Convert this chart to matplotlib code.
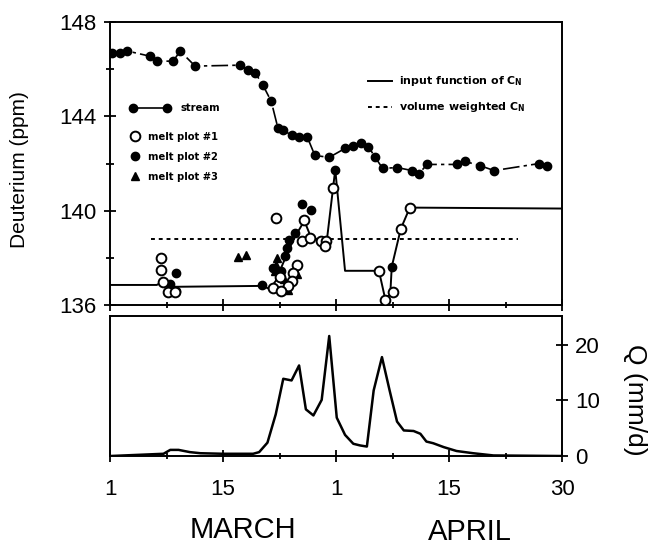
import matplotlib
matplotlib.use('Agg')
from matplotlib import pyplot as plt
from matplotlib.lines import Line2D

# time axis: days after 1 March, 0..60 (30 April at 60)
stream_day = [0.3, 1.3, 2.3, 5.3, 6.2, 8.4, 9.3, 11.3, 17.3, 18.3, 19.3, 20.3, 21.4,
              22.3, 23.0, 24.2, 25.1, 26.2, 27.2, 29.1, 31.2, 32.3, 33.3, 34.3, 35.2,
              36.2, 38.1, 40.1, 41.0, 42.1, 46.1, 47.1, 49.1, 51.0, 57.0, 58.0]
stream_ppm = [146.68, 146.68, 146.77, 146.55, 146.34, 146.34, 146.77, 146.13, 146.17,
              145.96, 145.83, 145.32, 144.64, 143.49, 143.40, 143.19, 143.11, 143.11,
              142.34, 142.26, 142.64, 142.74, 142.85, 142.72, 142.26, 141.79, 141.83,
              141.70, 141.57, 141.96, 141.96, 142.09, 141.91, 141.70, 142.00, 141.91]

melt1_day = [6.8, 6.8, 7.0, 7.7, 8.6, 21.6, 22.0, 25.8, 25.5, 26.6, 28.0, 28.7, 28.5,
             29.6, 24.8, 24.3, 24.1, 23.6, 22.6, 22.7, 35.7, 36.5, 37.6, 38.6, 39.8]
melt1_ppm = [138.00, 137.49, 136.98, 136.55, 136.55, 136.72, 139.70, 139.62, 138.72,
             138.85, 138.72, 138.72, 138.51, 140.94, 137.70, 137.36, 137.02, 136.81,
             137.19, 136.60, 137.45, 136.21, 136.55, 139.23, 140.13]

melt2_day = [8.8, 8.0, 8.8, 20.2, 21.6, 25.5, 26.7, 24.6, 23.8, 23.5, 23.2, 29.9, 37.4, 22.7]
melt2_ppm = [137.36, 136.89, 136.60, 136.85, 137.57, 140.30, 140.04, 139.06, 138.77,
             138.43, 138.09, 141.74, 137.62, 137.45]

melt3_day = [17.0, 18.0, 22.2, 22.0, 21.9, 24.8, 23.6, 23.1]
melt3_ppm = [138.04, 138.13, 138.00, 137.70, 137.45, 137.32, 136.64, 137.11]

input_day = [0, 6.2, 7.0, 8.0, 20.2, 21.2, 22.0, 23.0, 23.8, 24.4, 25.8, 26.7, 27.9,
             28.7, 29.6, 29.9, 31.2, 35.7, 36.5, 37.2, 37.4, 38.6, 39.8, 60]
input_ppm = [136.85, 136.85, 136.98, 136.77, 136.81, 136.68, 137.02, 137.79, 138.38,
             138.81, 139.57, 138.85, 138.72, 138.51, 140.94, 141.74, 137.45, 137.45,
             136.30, 136.43, 137.62, 139.23, 140.13, 140.09]

vw_day = [5.5, 54.2]
vw_ppm = [138.80, 138.80]

q_day = [0.1, 7.1, 8.0, 9.1, 10.6, 12.0, 15.0, 19.0, 19.8, 20.9, 22.0, 23.0, 24.1, 25.1,
         26.0, 27.0, 28.1, 29.1, 30.1, 31.2, 32.3, 33.2, 34.1, 35.0, 36.1, 37.1, 38.1,
         39.0, 40.3, 41.2, 42.0, 42.9, 44.3, 46.0, 48.2, 50.9, 59.7]
q_mm = [0, 0.4, 1.1, 1.1, 0.7, 0.5, 0.4, 0.4, 0.7, 2.4, 7.5, 13.9, 13.6, 16.3, 8.4, 7.3,
        10.1, 21.6, 6.9, 3.8, 2.2, 1.9, 1.7, 11.8, 17.8, 11.9, 6.2, 4.6, 4.5, 4.0, 2.6,
        2.3, 1.6, 0.9, 0.5, 0.1, 0]

major_days = [0, 15, 30, 45, 60]
major_labels = ['1', '15', '1', '15', '30']
minor_days = [7.5, 22.5, 37.5, 52.5]

W, H = 653, 546
fig = plt.figure(figsize=(W / 100, H / 100), dpi=100)
ax1 = fig.add_axes([110 / W, 1 - 305 / H, 452 / W, 283 / H])
ax2 = fig.add_axes([110 / W, 1 - 456 / H, 452 / W, 140 / H])

tickfont = 'Liberation Sans'
legfont = {'family': 'DejaVu Sans', 'weight': 'bold', 'size': 7.2}
legfont_r = {'family': 'DejaVu Sans', 'weight': 'bold', 'size': 7.9}

# ---- top panel: deuterium
stream_style = (0, (10, 2.5, 2, 2.5))
ax1.plot(stream_day, stream_ppm, color='black', lw=1.2, ls=stream_style,
         marker='o', ms=6, mfc='black', mec='black', zorder=3)
ax1.plot(input_day, input_ppm, color='black', lw=1.4, zorder=2)
ax1.plot(vw_day, vw_ppm, color='black', lw=1.4, ls=(0, (2, 2)), zorder=2)
ax1.plot(melt2_day, melt2_ppm, ls='none', marker='o', ms=6, mfc='black', mec='black', zorder=4)
ax1.plot(melt3_day, melt3_ppm, ls='none', marker='^', ms=6, mfc='black', mec='black', zorder=4)
ax1.plot(melt1_day, melt1_ppm, ls='none', marker='o', ms=7, mfc='white', mec='black',
         mew=1.4, zorder=5)

ax1.set_xlim(0, 60)
ax1.set_ylim(136, 148)
ax1.set_yticks([136, 140, 144, 148])
ax1.set_yticks([138, 142, 146], minor=True)
ax1.set_xticks(major_days)
ax1.set_xticks(minor_days, minor=True)
ax1.tick_params(axis='x', which='both', labelbottom=False, direction='inout')
ax1.tick_params(axis='x', which='major', length=9, width=1.3)
ax1.tick_params(axis='x', which='minor', length=5, width=1.3)
ax1.tick_params(axis='y', which='both', direction='inout', width=1.3)
ax1.tick_params(axis='y', which='major', length=9, pad=5, labelsize=16)
ax1.tick_params(axis='y', which='minor', length=6)
for lab in ax1.get_yticklabels():
    lab.set_family(tickfont)
ax1.set_ylabel('Deuterium (ppm)', fontsize=15, family=tickfont)
ax1.yaxis.set_label_coords((29 - 110) / 452, 1 - (170 - 22) / 283)

# legends
h_stream = Line2D([], [], color='black', lw=1.2, ls='-', marker='o', ms=6)
leg1 = ax1.legend([h_stream], ['stream'], loc='center left', bbox_to_anchor=(0.044, 0.696),
                  frameon=False, borderpad=0, borderaxespad=0, numpoints=2,
                  handlelength=4.0, handletextpad=1.1, prop=legfont)
ax1.add_artist(leg1)

h1 = Line2D([], [], ls='none', marker='o', ms=7, mfc='white', mec='black', mew=1.4)
h2 = Line2D([], [], ls='none', marker='o', ms=6, mfc='black', mec='black')
h3 = Line2D([], [], ls='none', marker='^', ms=6, mfc='black', mec='black')
leg2 = ax1.legend([h1, h2, h3], ['melt plot #1', 'melt plot #2', 'melt plot #3'],
                  loc='center left', bbox_to_anchor=(0.044, 0.523), frameon=False,
                  borderpad=0, borderaxespad=0, numpoints=1, handlelength=1.0,
                  handletextpad=0.8, labelspacing=1.0, prop=legfont)
ax1.add_artist(leg2)

h4 = Line2D([], [], color='black', lw=1.4)
h5 = Line2D([], [], color='black', lw=1.4, ls=(0, (2, 2)))
ax1.legend([h4, h5], [r'input function of C$_\mathregular{N}$',
                      r'volume weighted C$_\mathregular{N}$'],
           loc='center left', bbox_to_anchor=(0.571, 0.744), frameon=False,
           borderpad=0, borderaxespad=0, handlelength=2.2, handletextpad=0.6,
           labelspacing=1.1, prop=legfont_r)

# ---- bottom panel: discharge
ax2.plot(q_day, q_mm, color='black', lw=1.8)
ax2.set_xlim(0, 60)
ax2.set_ylim(0, 25.2)
ax2.set_xticks(major_days)
ax2.set_xticklabels(major_labels)
ax2.set_xticks(minor_days, minor=True)
ax2.tick_params(axis='x', which='both', direction='inout', width=1.3)
ax2.tick_params(axis='x', which='major', length=9, pad=12, labelsize=16)
ax2.tick_params(axis='x', which='minor', length=5)
ax2.yaxis.tick_right()
ax2.set_yticks([0, 10, 20])
ax2.tick_params(axis='y', which='major', direction='inout', length=9, width=1.3,
                pad=5, labelsize=16)
for lab in ax2.get_xticklabels() + ax2.get_yticklabels():
    lab.set_family(tickfont)
ax2.yaxis.set_label_position('right')
ax2.set_ylabel('Q (mm/d)', fontsize=19, family=tickfont, rotation=270, labelpad=0)
ax2.yaxis.set_label_coords((647 - 110) / 452, 1 - (400 - 316) / 140)

for ax in (ax1, ax2):
    for sp in ax.spines.values():
        sp.set_linewidth(1.4)

fig.text(243 / W, 1 - 530 / H, 'MARCH', fontsize=21, family=tickfont, ha='center', va='center')
fig.text(470 / W, 1 - 532 / H, 'APRIL', fontsize=21, family=tickfont, ha='center', va='center')

fig.savefig('out.png', dpi=100)
